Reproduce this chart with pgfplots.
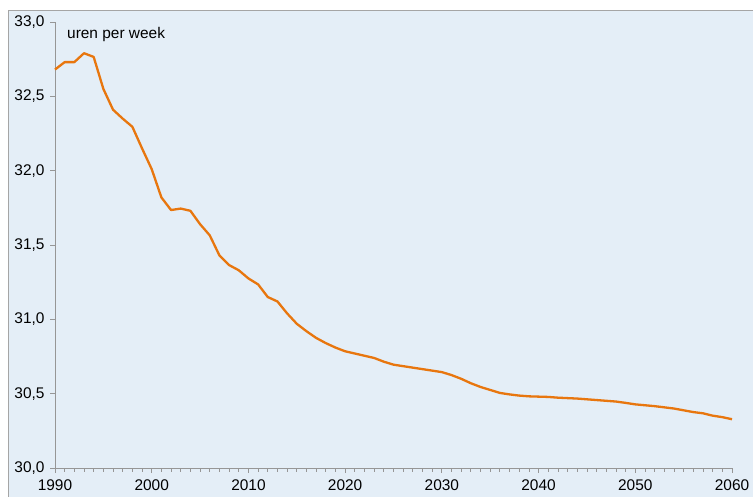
\documentclass[border=0pt]{standalone}
\usepackage{pgfplots}
\pgfplotsset{compat=1.18}
\usepackage{fontspec}
\setmainfont{Liberation Sans}
\definecolor{bgblue}{RGB}{228,238,247}
\definecolor{lineorange}{RGB}{232,118,14}
\definecolor{axgray}{RGB}{150,150,150}
\definecolor{framegray}{RGB}{165,165,165}
\newcommand{\lbl}{\fontsize{15.5}{18}\selectfont}
\begin{document}
\begin{tikzpicture}[x=1bp,y=1bp]
\useasboundingbox (0,0) rectangle (753,497);
\fill[white] (0,0) rectangle (753,497);
\fill[bgblue] (8,-5) rectangle (760,486);
\draw[framegray, line width=1bp] (8,-5) -- (8,486) -- (760,486);
\begin{axis}[
    at={(55bp,29bp)}, anchor=south west,
    scale only axis, width=677bp, height=446bp,
    xmin=1990, xmax=2060, ymin=30, ymax=33,
    axis x line*=bottom, axis y line*=left,
    axis line style={axgray, line width=0.8bp},
    xtick={1990,2000,...,2060}, minor x tick num=9,
    ytick={30,30.5,...,33},
    tick align=outside,
    major tick length=5bp, minor tick length=4bp,
    every tick/.style={axgray, line width=0.8bp},
    tick label style={font=\lbl, text=black},
    /pgf/number format/assume math mode=true,
    xticklabel style={/pgf/number format/1000 sep={}, anchor=north, yshift=-6bp, inner ysep=1bp},
    yticklabel style={/pgf/number format/fixed, /pgf/number format/fixed zerofill,
        /pgf/number format/precision=1, /pgf/number format/use comma,
        anchor=east, xshift=-2bp},
    clip=false,
]
\addplot[lineorange, line width=2.3bp, line join=round] coordinates {
(1990,32.68) (1991,32.73) (1992,32.73) (1993,32.79) (1994,32.765)
(1995,32.55) (1996,32.41) (1997,32.35) (1998,32.295) (1999,32.15)
(2000,32.01) (2001,31.82) (2002,31.735) (2003,31.745) (2004,31.73)
(2005,31.64) (2006,31.565) (2007,31.43) (2008,31.365) (2009,31.33)
(2010,31.275) (2011,31.235) (2012,31.15) (2013,31.12) (2014,31.04)
(2015,30.97) (2016,30.92) (2017,30.875) (2018,30.84) (2019,30.81)
(2020,30.785) (2021,30.77) (2022,30.755) (2023,30.74) (2024,30.715)
(2025,30.695) (2026,30.685) (2027,30.675) (2028,30.665) (2029,30.655)
(2030,30.645) (2031,30.625) (2032,30.6) (2033,30.57) (2034,30.545)
(2035,30.525) (2036,30.505) (2037,30.495) (2038,30.487) (2039,30.482)
(2040,30.48) (2041,30.478) (2042,30.473) (2043,30.47) (2044,30.467)
(2045,30.462) (2046,30.457) (2047,30.452) (2048,30.447) (2049,30.438)
(2050,30.428) (2051,30.422) (2052,30.416) (2053,30.408) (2054,30.4)
(2055,30.388) (2056,30.376) (2057,30.368) (2058,30.352) (2059,30.342)
(2060,30.328)
};
\node[anchor=base west, font=\lbl, inner sep=0pt] at (rel axis cs:0.0177,0.962) {uren per week};
\end{axis}
\end{tikzpicture}
\end{document}
